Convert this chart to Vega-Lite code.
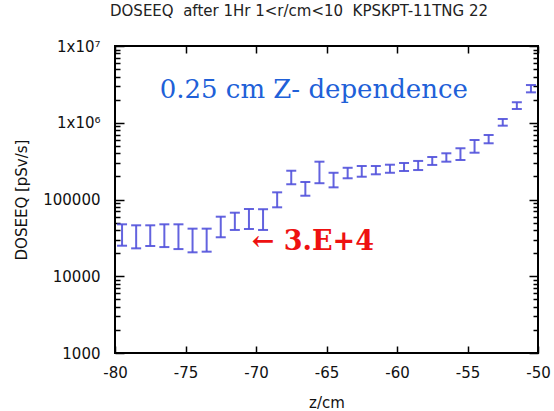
{
  "$schema": "https://vega.github.io/schema/vega-lite/v6.json",
  "width": 423,
  "height": 307,
  "autosize": "none",
  "padding": {"left": 115, "top": 46, "right": 16, "bottom": 58},
  "background": "white",
  "title": {"text": "DOSEEQ \u00a0after 1Hr 1<r/cm<10 \u00a0KPSKPT-11TNG 22", "font": "DejaVu Sans", "fontSize": 15, "fontWeight": "normal", "color": "#222", "offset": 20, "anchor": "start", "frame": "group", "dx": -5},
  "config": {
    "view": {"stroke": "#000", "strokeWidth": 2},
    "axis": {"domain": false, "grid": false, "ticks": true, "tickColor": "#000", "tickWidth": 1.5, "zindex": 1, "labelFont": "DejaVu Sans", "labelFontSize": 15, "labelColor": "#111", "labelFlush": false, "titleFont": "DejaVu Sans", "titleFontSize": 15, "titleFontWeight": "normal", "titleColor": "#111"}
  },
  "data": {"values": [
    {"z": -79.5, "lo": 25000, "hi": 47500},
    {"z": -78.5, "lo": 23100, "hi": 46100},
    {"z": -77.5, "lo": 24800, "hi": 46100},
    {"z": -76.5, "lo": 24000, "hi": 47500},
    {"z": -75.5, "lo": 22600, "hi": 47500},
    {"z": -74.5, "lo": 20500, "hi": 41700},
    {"z": -73.5, "lo": 20900, "hi": 41700},
    {"z": -72.5, "lo": 32200, "hi": 59700},
    {"z": -71.5, "lo": 40100, "hi": 67300},
    {"z": -70.5, "lo": 41300, "hi": 75200},
    {"z": -69.5, "lo": 40100, "hi": 74700},
    {"z": -68.5, "lo": 79100, "hi": 124000},
    {"z": -67.5, "lo": 158000, "hi": 237000},
    {"z": -66.5, "lo": 112000, "hi": 169000},
    {"z": -65.5, "lo": 163000, "hi": 311000},
    {"z": -64.5, "lo": 144000, "hi": 223000},
    {"z": -63.5, "lo": 189000, "hi": 259000},
    {"z": -62.5, "lo": 198000, "hi": 273000},
    {"z": -61.5, "lo": 213000, "hi": 273000},
    {"z": -60.5, "lo": 223000, "hi": 284000},
    {"z": -59.5, "lo": 235000, "hi": 299000},
    {"z": -58.5, "lo": 242000, "hi": 318000},
    {"z": -57.5, "lo": 282000, "hi": 358000},
    {"z": -56.5, "lo": 311000, "hi": 400000},
    {"z": -55.5, "lo": 327000, "hi": 465000},
    {"z": -54.5, "lo": 407000, "hi": 596000},
    {"z": -53.5, "lo": 540000, "hi": 692000},
    {"z": -52.5, "lo": 916000, "hi": 1120000},
    {"z": -51.5, "lo": 1510000, "hi": 1850000},
    {"z": -50.5, "lo": 2490000, "hi": 3100000}
  ]},
  "resolve": {"scale": {"x": "shared", "y": "shared"}, "axis": {"x": "independent", "y": "independent"}},
  "layer": [
    {
      "mark": {"type": "rule", "color": "#5252dc", "strokeWidth": 2, "opacity": 0.9},
      "encoding": {
        "x": {"field": "z", "type": "quantitative", "scale": {"domain": [-80, -50], "nice": false, "zero": false},
              "axis": {"orient": "bottom", "values": [-80, -75, -70, -65, -60, -55, -50], "offset": -7, "tickSize": 7, "labelPadding": 12,
                       "labelExpr": "'-' + format(abs(datum.value), 'd')", "title": "z/cm", "titlePadding": 15}},
        "y": {"field": "lo", "type": "quantitative", "scale": {"type": "log", "domain": [1000, 10000000], "nice": false},
              "axis": {"orient": "left", "values": [1000, 10000, 100000, 1000000, 10000000], "offset": -9, "tickSize": 9, "labelPadding": 15,
                       "labelExpr": "datum.value > 5000000 ? '1x10⁷' : datum.value > 500000 ? '1x10⁶' : format(datum.value, 'd')",
                       "title": "DOSEEQ [pSv/s]", "titlePadding": 13}},
        "y2": {"field": "hi"}
      }
    },
    {
      "mark": {"type": "tick", "orient": "horizontal", "color": "#5252dc", "thickness": 2, "size": 10, "opacity": 0.9},
      "encoding": {
        "x": {"field": "z", "type": "quantitative", "scale": {"domain": [-80, -50], "nice": false, "zero": false},
              "axis": {"orient": "top", "values": [-80, -75, -70, -65, -60, -55, -50], "offset": -7, "tickSize": 7, "labels": false, "title": null}},
        "y": {"field": "lo", "type": "quantitative", "scale": {"type": "log", "domain": [1000, 10000000], "nice": false},
              "axis": {"orient": "left", "labels": false, "title": null, "offset": -5, "tickSize": 5,
                       "values": [2000, 3000, 4000, 5000, 6000, 7000, 8000, 9000, 20000, 30000, 40000, 50000, 60000, 70000, 80000, 90000, 200000, 300000, 400000, 500000, 600000, 700000, 800000, 900000, 2000000, 3000000, 4000000, 5000000, 6000000, 7000000, 8000000, 9000000]}}
      }
    },
    {
      "mark": {"type": "tick", "orient": "horizontal", "color": "#5252dc", "thickness": 2, "size": 10, "opacity": 0.9},
      "encoding": {
        "x": {"field": "z", "type": "quantitative", "scale": {"domain": [-80, -50], "nice": false, "zero": false}, "axis": null},
        "y": {"field": "hi", "type": "quantitative", "scale": {"type": "log", "domain": [1000, 10000000], "nice": false},
              "axis": {"orient": "right", "values": [1000, 10000, 100000, 1000000, 10000000], "offset": -9, "tickSize": 9, "labels": false, "title": null}}
      }
    },
    {
      "data": {"values": [{"tx": -65.9, "ty": 2670000, "label": "0.25 cm Z- dependence"}]},
      "mark": {"type": "text", "font": "DejaVu Serif", "fontSize": 26, "color": "#2060d8", "align": "center", "baseline": "middle"},
      "encoding": {
        "x": {"field": "tx", "type": "quantitative", "scale": {"domain": [-80, -50], "nice": false, "zero": false}, "axis": null},
        "y": {"field": "ty", "type": "quantitative", "scale": {"type": "log", "domain": [1000, 10000000], "nice": false},
              "axis": {"orient": "right", "labels": false, "title": null, "offset": -5, "tickSize": 5,
                       "values": [2000, 3000, 4000, 5000, 6000, 7000, 8000, 9000, 20000, 30000, 40000, 50000, 60000, 70000, 80000, 90000, 200000, 300000, 400000, 500000, 600000, 700000, 800000, 900000, 2000000, 3000000, 4000000, 5000000, 6000000, 7000000, 8000000, 9000000]}},
        "text": {"field": "label", "type": "nominal"}
      }
    },
    {
      "data": {"values": [{"tx": -70.3, "ty": 27900, "label": "← 3.E+4"}]},
      "mark": {"type": "text", "font": "DejaVu Serif", "fontSize": 27, "fontWeight": "bold", "color": "#ee1111", "align": "left", "baseline": "middle"},
      "encoding": {
        "x": {"field": "tx", "type": "quantitative", "scale": {"domain": [-80, -50], "nice": false, "zero": false}, "axis": null},
        "y": {"field": "ty", "type": "quantitative", "scale": {"type": "log", "domain": [1000, 10000000], "nice": false}, "axis": null},
        "text": {"field": "label", "type": "nominal"}
      }
    }
  ]
}
